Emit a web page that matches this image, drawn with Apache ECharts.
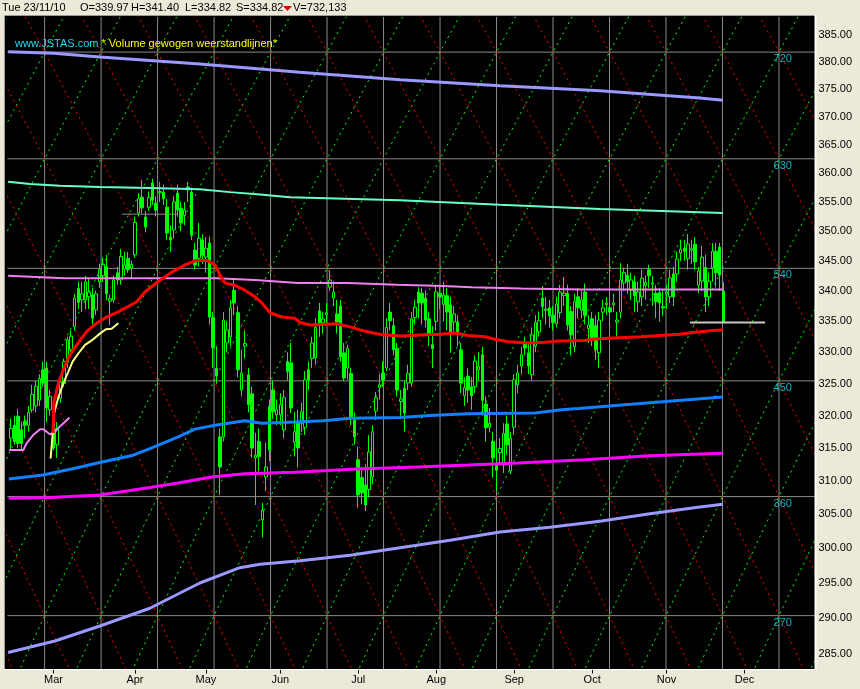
<!DOCTYPE html>
<html><head><meta charset="utf-8">
<script src="https://cdn.jsdelivr.net/npm/echarts@6/dist/echarts.min.js"></script>
<style>html,body{margin:0;padding:0;background:#ece9d8}#c{width:860px;height:689px}</style>
</head><body><div id="c"></div>
<script>
// ---------- calendar ----------
const firstSlotDate = [2010, 1, 10];          // blank slot before first candle (10 Feb 2010)
const holidays = ['2010-04-02', '2010-04-05'];
const slotCount = 229;
const monthNames = ['Jan','Feb','Mar','Apr','May','Jun','Jul','Aug','Sep','Oct','Nov','Dec'];

// ---------- header ----------
const headerDate = 'Tue 23/11/10';
const headerO = 'O=339.97', headerH = 'H=341.40', headerL = 'L=334.82', headerS = 'S=334.82', headerV = 'V=732,133';
const siteText = 'www.JSTAS.com';
const titleText = '* Volume gewogen weerstandlijnen*';

// ---------- price axis ----------
const yMin = 282.86, yMax = 388.38;
const priceTicks = [285,290,295,300,305,310,315,320,325,330,335,340,345,350,355,360,365,370,375,380,385];

// ---------- candles [open, close, low, high], 11 Feb .. 23 Nov 2010 ----------
const ohlc = [
[316.5,318.0,314.8,319.5],[318.5,316.0,315.5,320.0],[319.9,315.7,315.0,321.0],[317.8,315.7,314.5,319.0],
[319.1,318.5,316.5,320.0],[318.5,320.5,317.5,321.5],[320.9,323.3,320.5,324.8],[321.5,324.6,320.5,325.5],
[322.4,325.8,321.5,326.5],[327.2,325.1,324.5,328.5],[327.5,321.2,319.0,328.5],[320.9,323.0,320.0,324.0],
[319.8,315.0,314.7,320.5],[315.5,318.0,313.5,319.0],[322.7,325.2,322.0,326.0],[325.0,328.5,324.5,329.0],
[328.4,332.0,327.5,332.5],[330.4,332.6,330.0,333.5],[334.1,338.8,333.5,339.5],[340.4,338.1,337.0,341.5],
[338.5,339.5,336.5,341.5],[338.5,341.5,337.0,342.5],[339.0,339.8,337.0,342.0],[339.3,335.5,334.5,340.5],
[336.9,339.5,336.0,340.0],[341.5,343.5,340.5,344.5],[342.5,344.4,341.5,345.5],[344.0,339.5,338.5,346.0],
[338.3,338.7,334.4,339.3],[338.5,341.8,338.0,342.5],[343.0,341.8,341.0,344.0],[341.8,345.7,341.0,347.0],
[343.6,344.3,342.5,346.5],[345.4,343.5,343.0,346.5],[343.8,344.4,342.0,345.0],[346.0,351.5,345.5,352.5],
[353.1,355.6,352.5,356.5],[355.8,354.0,353.0,358.8],
[352.4,350.7,349.8,353.5],[354.1,355.8,353.5,356.8],[358.3,355.3,354.5,359.0],[354.8,353.6,352.5,356.0],
[356.6,356.8,355.0,358.5],[356.7,355.6,354.5,358.0],[354.1,349.7,348.5,355.5],[349.0,348.5,346.5,351.0],
[350.2,355.0,349.0,356.0],[356.5,353.6,352.5,358.0],[353.9,351.4,350.0,355.0],[352.7,353.6,351.0,355.0],
[357.6,357.1,355.0,358.5],[356.7,349.3,348.5,357.5],[346.8,344.3,343.5,348.0],[345.4,348.8,344.0,351.4],
[348.5,345.9,344.5,349.5],[345.6,347.1,343.0,349.0],[348.0,335.7,334.5,349.1],[335.6,330.7,327.5,336.5],
[327.4,326.2,325.0,331.0],[316.7,312.1,307.9,318.0],[316.7,335.2,316.0,336.5],[331.5,333.6,330.0,335.0],
[332.5,337.2,331.0,338.5],[340.1,338.0,336.0,342.0],[336.4,327.2,326.0,337.5],[324.0,326.7,323.0,330.4],
[331.0,331.4,329.0,333.5],[326.4,321.7,320.5,327.5],[323.4,315.0,313.5,324.5],[313.5,313.9,306.4,317.3],
[316.0,313.7,311.5,318.0],[304.2,305.6,301.6,306.7],[310.6,312.1,308.5,315.8],[321.4,314.7,313.0,322.5],
[324.0,320.6,319.5,325.5],[320.1,320.9,318.5,322.5],[320.1,321.7,318.5,323.5],[317.8,322.8,316.5,324.0],
[328.5,326.9,325.5,330.0],[328.3,321.2,320.4,331.5],[315.9,317.5,313.7,320.6],
[318.8,315.0,312.0,320.9],[318.8,320.6,317.5,322.0],[318.2,325.6,317.0,327.0],[327.2,325.6,324.0,328.5],
[329.0,331.5,327.5,332.5],[329.1,334.0,328.0,335.5],[336.7,334.8,332.5,338.0],[334.8,335.4,333.0,336.5],
[336.1,336.4,334.5,338.0],[340.6,341.8,340.0,343.4],[338.8,339.8,337.5,341.5],[336.2,334.9,333.0,338.5],
[337.5,329.3,328.5,338.5],[329.9,325.9,325.4,331.5],[327.5,330.6,325.6,331.2],[326.6,319.6,318.5,327.5],
[319.3,316.7,315.5,320.5],[313.2,307.9,306.0,315.2],[310.5,308.2,306.5,312.0],[309.4,306.4,305.5,312.5],
[308.7,314.4,307.5,317.0],[310.6,317.5,309.5,318.5],[320.7,322.8,319.3,323.7],[324.4,324.8,322.5,326.5],
[326.7,325.6,324.5,328.5],[327.5,334.0,327.0,335.5],[336.5,335.1,333.5,338.0],[334.3,330.4,329.5,335.5],
[330.6,324.0,323.0,331.5],[322.2,322.6,320.0,324.0],[324.3,320.4,317.5,325.5],[325.1,326.6,324.0,328.0],
[325.1,335.4,324.5,336.5],[335.6,337.3,334.5,338.5],[339.8,338.0,335.5,340.6],[339.6,338.0,334.5,340.5],
[338.8,335.2,334.0,340.0],[335.4,332.8,331.0,336.5],[331.2,330.6,327.5,334.2],[335.0,339.8,333.5,341.0],
[339.6,339.0,337.0,341.0],
[337.7,339.3,335.0,341.5],[339.2,336.5,333.5,340.5],[337.7,332.8,329.9,339.0],[334.9,336.2,333.0,337.5],
[334.9,333.1,331.0,336.0],[330.4,325.1,323.5,331.5],[323.1,324.4,321.5,326.0],[326.2,324.0,322.0,327.5],
[324.5,323.1,320.9,326.0],[324.5,328.6,323.5,329.5],[327.2,327.7,325.5,330.0],[329.6,322.4,320.0,330.9],
[321.8,318.1,316.0,323.0],[318.2,318.8,317.4,321.2],[316.0,313.5,310.5,317.5],[312.4,311.6,308.5,315.0],
[314.3,314.9,312.5,316.5],[312.7,317.2,311.2,318.8],[318.7,315.5,314.0,320.0],[311.5,316.5,311.0,317.5],
[318.2,325.6,317.0,326.5],[324.8,326.7,323.5,328.0],[327.8,329.6,326.5,330.9],[331.5,330.7,329.5,332.5],
[329.9,327.8,326.5,331.5],[326.4,332.8,325.5,334.0],[331.0,334.8,330.0,336.0],[333.3,335.1,332.5,336.6],
[338.8,337.4,335.5,340.8],[336.8,337.0,334.5,339.0],[337.2,335.9,334.0,338.5],[336.0,334.8,333.5,337.5],
[334.6,337.8,334.0,339.0],[336.4,339.8,335.5,341.0],[339.2,339.6,337.5,342.3],[339.6,334.4,333.5,341.0],
[336.6,332.8,329.5,337.5],[330.9,338.2,330.0,339.5],[339.0,337.2,335.5,340.5],
[336.8,338.5,335.5,340.0],[339.8,336.0,334.5,341.2],[333.8,334.4,331.5,336.0],[335.4,332.3,331.0,336.5],
[334.3,330.4,328.8,336.0],[329.9,335.2,327.5,336.5],[336.5,337.2,335.0,338.5],[337.7,338.0,336.0,339.0],
[337.2,336.5,334.4,338.5],[337.7,338.0,336.5,339.5],[334.9,335.2,332.5,336.5],[336.5,341.8,335.5,344.6],
[341.3,343.0,340.0,343.8],[342.6,341.5,339.5,344.5],[340.1,341.8,338.5,343.0],[341.5,339.2,336.5,342.5],
[338.2,339.8,336.5,341.5],[339.0,342.1,337.5,343.5],[340.9,341.4,338.5,342.5],[343.5,342.5,340.5,344.3],
[341.1,341.3,337.5,342.5],[339.6,338.2,335.5,341.0],[339.7,338.0,335.0,340.5],[337.4,337.2,335.9,340.2],
[339.5,339.8,337.0,341.0],[339.0,342.1,338.0,343.5],[342.8,339.0,337.5,344.0],[342.8,345.3,341.5,346.5],
[346.3,346.9,345.0,348.5],[347.1,346.6,345.0,348.5],[345.4,347.8,343.5,349.5],[346.8,347.0,344.5,348.5],
[347.8,344.8,343.5,349.0],[340.9,343.3,339.6,344.0],[341.6,345.6,340.0,347.5],[343.9,339.0,336.5,346.0],
[339.0,341.6,337.5,343.0],[343.8,346.6,341.5,348.0],[346.6,343.0,340.5,348.0],[347.3,342.6,340.0,348.0],
[339.97,334.82,334.82,341.40]
];

// ---------- volume weighted resistance lines & averages: [slot, price] ----------
const resTop = [[0.2,381.9],[13,381.6],[26.1,380.9],[54.3,379.6],[82.5,378.1],[110.8,376.7],[139,375.6],[167.2,374.7],[195.4,373.4],[201.9,373.0]];
const resAqua = [[0.2,358.5],[6.4,358.1],[14.8,357.8],[26.1,357.6],[40.2,357.4],[54.3,357.2],[62.8,356.7],[71.3,356.3],[79.7,355.8],[110.8,355.3],[139,354.5],[167.2,353.8],[201.9,353.1]];
const resPink = [[0.2,342.5],[16,342.1],[59,342.1],[70,341.8],[82,341.3],[96,341.3],[110,341.0],[123,340.8],[131,340.6],[145,340.4],[162,340.2],[201.9,340.2]];
const avgRed = [[12.9,317.3],[13.1,322.0],[14.4,325.1],[15.8,327.2],[17.2,329.1],[18.6,330.4],[21.0,332.3],[22.5,333.4],[25.2,334.7],[28.0,335.7],[30.8,336.4],[33.7,337.3],[36.5,338.2],[38.8,339.8],[42.5,341.5],[46.4,343.1],[50.1,344.3],[52.9,345.0],[56.2,345.1],[58.6,344.3],[60.0,342.6],[61.4,341.3],[64.2,340.9],[67.0,340.1],[69.9,339.0],[71.8,338.0],[74.1,336.4],[77.4,335.7],[81.1,335.5],[82.6,334.8],[85.4,334.4],[92.9,334.6],[96.7,334.1],[99.5,333.6],[103.2,333.1],[106.0,332.8],[110.8,332.6],[118.3,332.8],[122.1,332.9],[126.3,333.1],[130.0,332.7],[134.8,332.5],[137.6,332.1],[141.3,331.7],[146.9,331.5],[151.7,331.6],[155.4,331.8],[163.0,331.9],[165.2,332.1],[170.9,332.3],[179.0,332.5],[184.1,332.7],[189.8,332.9],[193.4,333.2],[199.1,333.5],[201.9,333.6]];
const avgYellow = [[12.2,313.4],[12.7,316.7],[13.2,320.4],[14.4,322.9],[15.8,325.1],[17.2,326.9],[18.4,328.5],[20.0,329.8],[21.9,331.2],[23.8,331.9],[26.1,333.0],[27.8,333.7],[29.4,333.8],[31.3,334.7]];
const avgPinkShort = [[0.5,314.7],[4.5,314.7],[5.4,315.7],[7.3,317.0],[9.2,317.9],[10.1,317.9],[12.0,317.1],[13.4,317.5],[14.8,318.3],[16.2,319.0],[17.5,319.7]];
const resBlue = [[0.4,310.3],[10.0,310.9],[18.1,311.8],[26.1,312.8],[35.5,313.9],[40.2,314.9],[48.2,316.7],[52.9,317.9],[58.6,318.5],[67.0,319.2],[71.8,318.8],[81.1,319.0],[89.1,319.2],[96.7,319.6],[110.8,319.7],[119.2,320.0],[130.0,320.3],[148.9,320.4],[156.4,320.9],[161.1,321.1],[181.3,322.0],[201.9,322.9]];
const resMagenta = [[0.4,307.4],[12.0,307.5],[26.1,307.9],[40.2,309.0],[48.2,309.7],[57.6,310.6],[67.0,311.1],[81.1,311.3],[98.6,311.8],[115.5,312.1],[130.0,312.4],[144.1,312.7],[163.0,313.2],[181.3,313.8],[201.9,314.2]];
const resBottom = [[0.2,285.2],[13.4,286.8],[26.1,288.9],[40.2,291.4],[54.3,295.0],[65.6,297.2],[71.3,297.7],[82.6,298.2],[96.7,299.0],[110.8,300.1],[124.9,301.2],[139.0,302.4],[153.1,303.1],[167.2,304.0],[181.3,305.1],[195.4,306.1],[201.9,306.5]];
const lastCloseLine = [[192.6,334.82],[213.8,334.82]];
const markShort = [[32.3,352.9],[48.1,352.9]];

// ---------- Gann lattice ----------
const gannBaseSqrt = 18.04;   // sqrt(price) on the 450 line
const gannSqrtStep = 0.5;     // per 90 degrees
const gannLabelRows = [-2,-1,0,1,2,3];
const gannColStart = 10.5, gannColStep = 15.94;

// ---------- build ----------
function buildDates(){
  const out=[]; const d=new Date(Date.UTC(firstSlotDate[0],firstSlotDate[1],firstSlotDate[2]));
  while(out.length<slotCount){
    const wd=d.getUTCDay(); const s=d.toISOString().slice(0,10);
    if(wd!==0&&wd!==6&&holidays.indexOf(s)<0) out.push(s);
    d.setUTCDate(d.getUTCDate()+1);
  }
  return out;
}
const dates = buildDates();
const isMonthStart = (i)=> i>0 && dates[i].slice(5,7)!==dates[i-1].slice(5,7);
const rowPrice = j => Math.pow(gannBaseSqrt + gannSqrtStep*j, 2);
const colSlot = k => gannColStart + gannColStep*k;

const series = [];
const latticeBase = {type:'line', xAxisIndex:1, yAxisIndex:0, symbol:'none', silent:true, z:1, animation:false, clip:true};
for (let j=-3;j<=4;j++){
  series.push(Object.assign({}, latticeBase, {data:[[0,rowPrice(j)],[228,rowPrice(j)]], lineStyle:{color:'#8a8a8a',width:1}}));
}
for (let k=0;k<=13;k++){
  series.push(Object.assign({}, latticeBase, {data:[[colSlot(k),yMin],[colSlot(k),yMax]], lineStyle:{color:'#8a8a8a',width:1}}));
}
for (let m=-8;m<=21;m++){
  const red=[], green=[];
  for (let k=-1;k<=15;k++){
    const jr=m-k; if (jr>=-6&&jr<=6) red.push([colSlot(k),rowPrice(jr)]);
    const jg=k-m; if (jg>=-6&&jg<=6) green.push([colSlot(k),rowPrice(jg)]);
  }
  if (red.length>1) series.push(Object.assign({}, latticeBase, {data:red, lineStyle:{color:'#ff0000',width:1,type:[2,4]}}));
  if (green.length>1) series.push(Object.assign({}, latticeBase, {data:green, lineStyle:{color:'#00ff00',width:1,type:[2,4]}}));
}
series.push({type:'scatter', xAxisIndex:1, yAxisIndex:0, silent:true, z:5, symbol:'rect', symbolSize:[1,1],
  itemStyle:{color:'rgba(0,0,0,0)'},
  label:{show:true, position:'bottom', distance:1, color:'#20d8f0', fontSize:11, fontFamily:'Liberation Sans',
    formatter:p=>String(p.value[2])},
  data: gannLabelRows.map(j=>[218.8,rowPrice(j),450+90*j])});

series.push({type:'candlestick', xAxisIndex:0, yAxisIndex:0, z:3, barWidth:3, animation:false,
  itemStyle:{color:'#000000', color0:'#00ff00', borderColor:'#00ff00', borderColor0:'#00ff00', borderWidth:1},
  data:[['-','-','-','-']].concat(ohlc)});

function lineSeries(data,color,width){
  return {type:'line', xAxisIndex:1, yAxisIndex:0, symbol:'none', silent:true, z:4, animation:false,
    data, lineStyle:{color, width}};
}
series.push(lineSeries(resTop,'#9999ff',3));
series.push(lineSeries(resAqua,'#66ffcc',2));
series.push(lineSeries(resPink,'#f080f0',2));
series.push(lineSeries(resBlue,'#1080ff',3));
series.push(lineSeries(resMagenta,'#ff00ff',3));
series.push(lineSeries(resBottom,'#9999ff',3));
series.push(lineSeries(avgPinkShort,'#f080f0',2));
series.push(lineSeries(avgYellow,'#ffff80',2));
series.push(lineSeries(avgRed,'#ff0000',3));
series.push(lineSeries(lastCloseLine,'#c8c8c8',2));
series.push(lineSeries(markShort,'#8a8a8a',1));

const font11 = '11px "Liberation Sans", Arial, sans-serif';
const hdr = (text,x,fill)=>({type:'text', z:50, style:{text, x, y:8, fill:fill||'#000', font:font11, textVerticalAlign:'middle'}});

const option = {
  backgroundColor:'#ece9d8',
  animation:false,
  grid:{left:7.4, top:17, width:808, height:652.5, containLabel:false},
  xAxis:[
    {type:'category', data:dates, boundaryGap:false, gridIndex:0,
      axisLine:{show:false},
      axisTick:{show:true, interval:(i)=>isMonthStart(i), length:4, lineStyle:{color:'#000'}},
      axisLabel:{interval:(i)=>isMonthStart(i), formatter:(v)=>monthNames[+v.slice(5,7)-1],
        color:'#000', fontSize:11, fontFamily:'Liberation Sans', margin:5},
      splitLine:{show:false}},
    {type:'value', min:0, max:228, show:false, gridIndex:0}
  ],
  yAxis:[{type:'log', logBase:10, position:'right', min:yMin, max:yMax,
    axisLine:{show:false}, axisTick:{show:false}, splitLine:{show:false},
    axisLabel:{customValues:priceTicks, formatter:(v)=>Number(v).toFixed(2), color:'#000', fontSize:11,
      fontFamily:'Liberation Sans', margin:3}}],
  graphic:[
    {type:'rect', z:0, shape:{x:5,y:16,width:810,height:654}, style:{fill:'#000'}},
    {type:'line', z:60, shape:{x1:4.5,y1:15.5,x2:815,y2:15.5}, style:{stroke:'#9a9a9a',lineWidth:1}},
    {type:'line', z:60, shape:{x1:4.5,y1:15.5,x2:4.5,y2:670}, style:{stroke:'#9a9a9a',lineWidth:1}},
    {type:'line', z:60, shape:{x1:815.5,y1:15,x2:815.5,y2:670}, style:{stroke:'#ffffff',lineWidth:2}},
    {type:'line', z:60, shape:{x1:4,y1:669.5,x2:816,y2:669.5}, style:{stroke:'#ffffff',lineWidth:1}},
    hdr(headerDate,2), hdr(headerO,80), hdr(headerH,131), hdr(headerL,185), hdr(headerS,236),
    {type:'polygon', z:50, shape:{points:[[283,6],[292,6],[287.5,11]]}, style:{fill:'#e00000'}},
    hdr(headerV,293),
    {type:'text', z:50, style:{text:siteText, x:15, y:44, fill:'#20d8f0', font:font11, textVerticalAlign:'middle'}},
    {type:'text', z:50, style:{text:titleText, x:101.5, y:44, fill:'#ffff00', font:font11, textVerticalAlign:'middle'}}
  ],
  series
};
const chart = echarts.init(document.getElementById('c'), null, {renderer:'canvas'});
chart.setOption(option);
</script>
</body></html>
